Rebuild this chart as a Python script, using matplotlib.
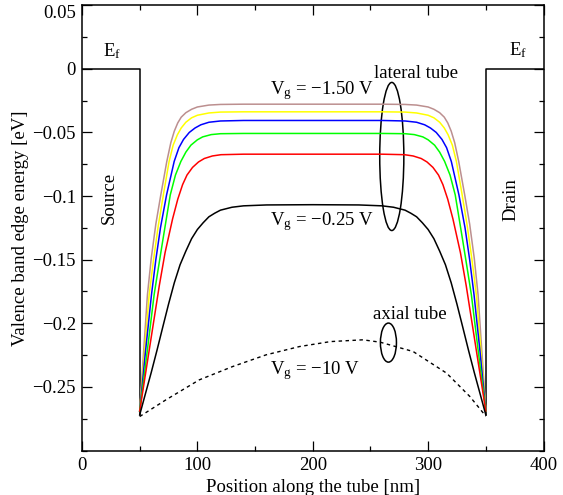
import matplotlib
matplotlib.use("Agg")
import matplotlib.pyplot as plt
from matplotlib.patches import Ellipse
from matplotlib.ticker import MultipleLocator

plt.rcParams['font.family'] = ['Liberation Serif', 'DejaVu Serif']
plt.rcParams['mathtext.fontset'] = 'custom'
plt.rcParams['mathtext.rm'] = 'Liberation Serif'
plt.rcParams['mathtext.it'] = 'Liberation Serif:italic'

# ---------------- data ----------------
contact_src_x = [0, 50, 50]
contact_src_y = [0.0, 0.0, -0.272]
contact_drn_x = [350, 350, 400]
contact_drn_y = [-0.272, 0.0, 0.0]

brown_x = [50, 53, 56.7, 60, 64, 68.3, 73.5, 77, 80, 83, 86, 90, 95, 100, 110, 120, 140, 200,
           260, 280, 290, 300, 305, 310, 314, 317, 320, 323, 326.5, 331.7, 336, 340, 343.3, 347, 350]
brown_y = [-0.269, -0.228, -0.1777, -0.149, -0.122, -0.0991, -0.0728, -0.058, -0.049, -0.0425, -0.038,
           -0.0345, -0.0318, -0.0300, -0.0285, -0.0280, -0.0278, -0.0278,
           -0.0278, -0.0280, -0.0285, -0.0300, -0.0318, -0.0345, -0.038, -0.0425, -0.049, -0.058,
           -0.0728, -0.0991, -0.122, -0.149, -0.1777, -0.228, -0.269]

yellow_x = [50, 54, 58.2, 62, 66, 70.5, 75.5, 79, 82.7, 86, 90, 95, 100, 110, 120, 140, 200,
            260, 280, 290, 300, 305, 310, 314, 317.3, 321, 324.5, 329.5, 334, 338, 341.8, 346, 350]
yellow_y = [-0.269, -0.2245, -0.1777, -0.150, -0.124, -0.0991, -0.0728, -0.060, -0.0518, -0.0465,
            -0.0420, -0.0385, -0.0365, -0.0347, -0.0340, -0.0338, -0.0338,
            -0.0338, -0.0340, -0.0347, -0.0365, -0.0385, -0.0420, -0.0465, -0.0518, -0.060,
            -0.0728, -0.0991, -0.124, -0.150, -0.1777, -0.2245, -0.269]

blue_x = [50, 55, 60.2, 64, 68, 73.3, 79.9, 84, 88, 93, 98, 103, 110, 120, 140, 200,
          260, 280, 290, 297, 302, 307, 312, 316, 320.1, 326.7, 332, 336, 339.8, 345, 350]
blue_y = [-0.269, -0.2225, -0.1777, -0.1500, -0.1250, -0.0991, -0.0728, -0.0620, -0.0555, -0.0500,
          -0.0465, -0.0440, -0.0420, -0.0410, -0.0406, -0.0406,
          -0.0406, -0.0410, -0.0420, -0.0440, -0.0465, -0.0500, -0.0555, -0.0620, -0.0728,
          -0.0991, -0.1250, -0.1500, -0.1777, -0.2225, -0.269]

green_x = [50, 56, 62.5, 65.4, 70, 76.5, 81, 85.7, 90, 94.4, 100, 104.6, 112, 120, 140, 200,
           260, 280, 288, 295.4, 300, 305.6, 310, 314.3, 319, 323.5, 330, 334.6, 337.5, 344, 350]
green_y = [-0.269, -0.2260, -0.1777, -0.161, -0.135, -0.0991, -0.0835, -0.0728, -0.0655, -0.0600,
           -0.0558, -0.0535, -0.0517, -0.0510, -0.0508, -0.0508,
           -0.0508, -0.0510, -0.0517, -0.0535, -0.0558, -0.0600, -0.0655, -0.0728, -0.0835,
           -0.0991, -0.135, -0.161, -0.1777, -0.2260, -0.269]

red_x = [50, 55, 60, 67, 72, 78.5, 83, 87.2, 91, 95.8, 101, 106, 113, 120.5, 140, 200,
         260, 279.5, 287, 294, 299, 304.2, 309, 312.8, 317, 321.5, 328, 333, 340, 345, 350]
red_y = [-0.269, -0.240, -0.211, -0.1704, -0.1445, -0.1180, -0.1025, -0.0910, -0.0835, -0.0775,
         -0.0732, -0.0705, -0.0685, -0.0675, -0.0671, -0.0671,
         -0.0671, -0.0675, -0.0685, -0.0705, -0.0732, -0.0775, -0.0835, -0.0910, -0.1025,
         -0.1180, -0.1445, -0.1704, -0.211, -0.240, -0.269]

black_x = [50, 55, 60, 65, 70, 75, 80, 85, 90, 95, 100, 105, 110, 115, 120, 130, 140, 160, 200,
           240, 260, 270, 280, 285, 290, 295, 300, 305, 310, 315, 320, 325, 330, 335, 340, 345, 350]
black_y = [-0.272, -0.2553, -0.2387, -0.2212, -0.2030, -0.1850, -0.1682, -0.1540, -0.1433, -0.1335,
           -0.1263, -0.1210, -0.1163, -0.1135, -0.1111, -0.1088, -0.1077, -0.1070, -0.1068,
           -0.1070, -0.1077, -0.1088, -0.1111, -0.1135, -0.1163, -0.1210, -0.1263, -0.1335,
           -0.1433, -0.1540, -0.1682, -0.1850, -0.2030, -0.2212, -0.2387, -0.2553, -0.272]

axial_x = [50, 72.7, 101.6, 130.6, 159.6, 188.5, 215.3, 243.5, 258.6, 287, 316, 336.2, 350]
axial_y = [-0.2733, -0.2602, -0.2445, -0.2340, -0.2248, -0.2183, -0.2144, -0.2130, -0.2149,
           -0.2222, -0.2392, -0.2576, -0.2730]

lateral_series = [
    (brown_x, brown_y, '#BC8F8F'),
    (yellow_x, yellow_y, '#FFFF00'),
    (blue_x, blue_y, '#0000FF'),
    (green_x, green_y, '#00FF00'),
    (red_x, red_y, '#FF0000'),
    (black_x, black_y, '#000000'),
]

x_ticks = [0, 100, 200, 300, 400]
x_ticklabels = ['0', '100', '200', '300', '400']
y_ticks = [0.05, 0.0, -0.05, -0.1, -0.15, -0.2, -0.25]
y_ticklabels = ['0.05', '0', '\u22120.05', '\u22120.1', '\u22120.15', '\u22120.2', '\u22120.25']

# ---------------- figure ----------------
W, H = 563, 495
fig = plt.figure(figsize=(W / 100, H / 100), dpi=100)
left, right, top, bottom = 82, 543.5, 5.2, 450.5
ax = fig.add_axes([left / W, 1 - bottom / H, (right - left) / W, (bottom - top) / H])

ax.plot(contact_src_x, contact_src_y, color='black', lw=1.1)
ax.plot(contact_drn_x, contact_drn_y, color='black', lw=1.1)
for xs, ys, c in lateral_series:
    ax.plot(xs, ys, color=c, lw=1.1)
ax.plot(axial_x, axial_y, color='black', lw=1.0, linestyle=(0, (2.5, 2.5)))

ax.add_patch(Ellipse((268.5, -0.0689), 20.9, 0.1164, fill=False, edgecolor='black', lw=1.1))
ax.add_patch(Ellipse((265.6, -0.2152), 13.9, 0.0307, fill=False, edgecolor='black', lw=1.1))

fs = 13.5
ax.text(18.2, 0.0095, r'E$_\mathrm{f}$', fontsize=fs, va='baseline', ha='left')
ax.text(370.4, 0.0105, r'E$_\mathrm{f}$', fontsize=fs, va='baseline', ha='left')
ax.text(23.5, -0.1014, 'Source', fontsize=fs, rotation=90, ha='center', va='center')
ax.text(371.9, -0.1030, 'Drain', fontsize=fs, rotation=90, ha='center', va='center')
ax.text(163.1, -0.0199, r'V$_\mathrm{g}$ = ' + '\u22121.50 V', fontsize=fs, va='baseline', ha='left')
ax.text(252.8, -0.0073, 'lateral tube', fontsize=fs, va='baseline', ha='left')
ax.text(163.1, -0.1232, r'V$_\mathrm{g}$ = ' + '\u22120.25 V', fontsize=fs, va='baseline', ha='left')
ax.text(252.2, -0.1968, 'axial tube', fontsize=fs, va='baseline', ha='left')
ax.text(163.1, -0.2398, r'V$_\mathrm{g}$ = ' + '\u221210 V', fontsize=fs, va='baseline', ha='left')

ax.set_xlim(0, 400)
ax.set_ylim(-0.3, 0.05)
ax.set_xticks(x_ticks)
ax.set_xticklabels(x_ticklabels)
ax.set_yticks(y_ticks)
ax.set_yticklabels(y_ticklabels)
ax.xaxis.set_minor_locator(MultipleLocator(50))
ax.yaxis.set_minor_locator(MultipleLocator(0.025))
ax.tick_params(which='both', direction='in', top=True, right=True, width=0.9, labelsize=fs)
ax.tick_params(which='major', length=7.5)
ax.tick_params(which='minor', length=3.8)
ax.tick_params(axis='x', pad=5)
ax.tick_params(axis='y', pad=4.5)
for lab in ax.get_yticklabels():
    if lab.get_text() == '0.05':
        lab.set_va('top')
for sp in ax.spines.values():
    sp.set_linewidth(1.1)

ax.set_xlabel('Position along the tube [nm]', fontsize=fs, labelpad=3)
ax.set_ylabel('Valence band edge energy [eV]', fontsize=fs, labelpad=2)

fig.savefig('out.png', dpi=100)
